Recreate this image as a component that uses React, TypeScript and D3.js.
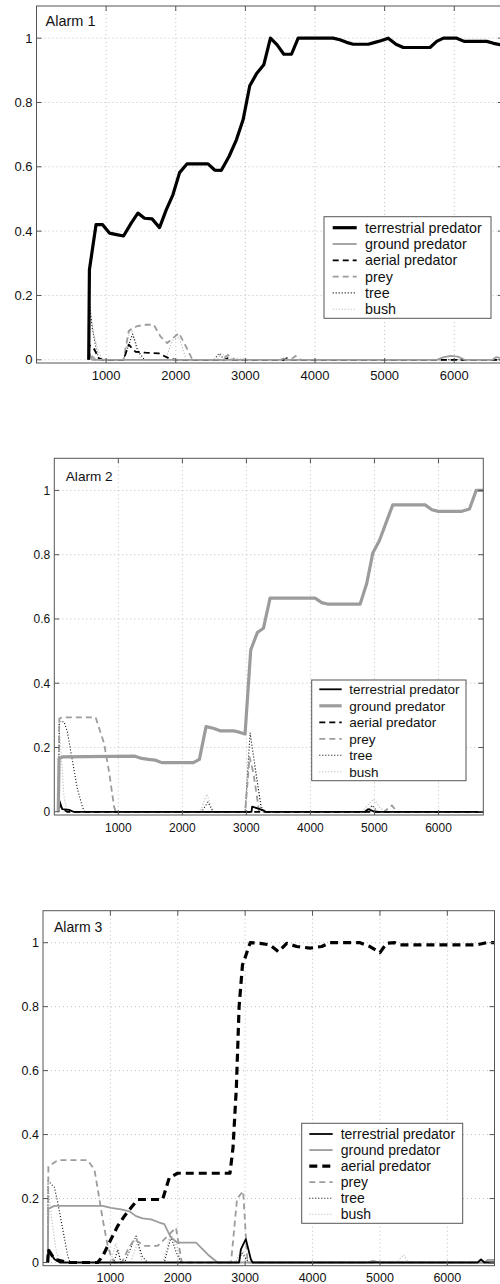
import React from "react";
import * as d3 from "d3";

type Pt = [number, number];

// ---------- data ----------
const seriesNames = ["terrestrial predator", "ground predator", "aerial predator", "prey", "tree", "bush"];
const xTicks = [1000, 2000, 3000, 4000, 5000, 6000];
const yTicks = [0, 0.2, 0.4, 0.6, 0.8, 1];
const yTickLabels = ["0", "0.2", "0.4", "0.6", "0.8", "1"];
const alarmTitles = ["Alarm 1", "Alarm 2", "Alarm 3"];

// Alarm 1
const a1Terrestrial: Pt[] = [[750,0],[760,0.28],[855,0.42],[950,0.42],[1047,0.394],[1150,0.389],[1250,0.385],[1360,0.425],[1456,0.456],[1552,0.44],[1660,0.438],[1767,0.411],[1863,0.466],[1959,0.513],[2055,0.582],[2160,0.609],[2463,0.609],[2559,0.59],[2655,0.589],[2765,0.632],[2871,0.684],[2967,0.746],[3063,0.852],[3159,0.889],[3264,0.917],[3360,1.0],[3456,0.979],[3552,0.95],[3662,0.95],[3758,1.0],[4261,1.0],[4357,0.995],[4453,0.987],[4549,0.981],[4765,0.981],[4861,0.987],[4957,0.993],[5052,1.0],[5163,0.981],[5268,0.971],[5652,0.971],[5748,0.99],[5844,1.0],[6036,1.0],[6141,0.99],[6467,0.99],[6563,0.984],[6700,0.978]];
const a1Ground: Pt[] = [[750,0],[760,0.02],[800,0],[3500,0],[3550,0.004],[3600,0],[5750,0],[5850,0.008],[5950,0.012],[6050,0.01],[6150,0],[6550,0],[6600,0.008],[6700,0.004]];
const a1Aerial: Pt[] = [[750,0],[760,0.045],[822,0.036],[893,0.005],[950,0],[1250,0],[1325,0.047],[1421,0.025],[1566,0.022],[1757,0.02],[1900,0.005],[2000,0],[2700,0],[2750,0.005],[2800,0],[3550,0],[3600,0.005],[3650,0],[6700,0]];
const a1Prey: Pt[] = [[750,0],[760,0.02],[850,0],[1250,0],[1325,0.09],[1450,0.105],[1566,0.109],[1685,0.109],[1782,0.072],[1877,0.052],[2045,0.083],[2150,0.04],[2240,0],[2650,0],[2750,0.015],[2850,0],[3650,0],[3720,0.012],[3800,0],[6700,0]];
const a1Tree: Pt[] = [[750,0],[760,0.18],[800,0.1],[860,0.03],[900,0],[1250,0],[1380,0.08],[1450,0.03],[1550,0],[2550,0],[2620,0.02],[2700,0],[6700,0]];
const a1Bush: Pt[] = [[750,0],[770,0.15],[820,0.08],[900,0.02],[950,0],[1250,0],[1350,0.1],[1420,0.06],[1500,0],[1850,0],[1950,0.06],[2050,0.07],[2150,0],[2600,0],[2650,0.02],[2750,0.005],[3000,0.005],[3050,0],[6700,0]];

// Alarm 2
const a2Terrestrial: Pt[] = [[62,0],[70,0.04],[125,0.008],[230,0.006],[300,0],[3080,0],[3090,0.016],[3260,0.005],[3300,0],[4850,0],[4900,0.008],[4980,0.002],[5050,0],[6700,0]];
const a2Ground: Pt[] = [[62,0],[75,0.166],[141,0.171],[1260,0.173],[1365,0.166],[1469,0.163],[1573,0.161],[1677,0.153],[2172,0.153],[2266,0.163],[2370,0.265],[2484,0.26],[2589,0.252],[2797,0.252],[2901,0.247],[2979,0.242],[3068,0.504],[3172,0.558],[3266,0.571],[3370,0.665],[4073,0.665],[4177,0.651],[4281,0.646],[4776,0.646],[4880,0.711],[4974,0.805],[5078,0.844],[5182,0.9],[5286,0.955],[5792,0.955],[5896,0.94],[6000,0.935],[6365,0.935],[6484,0.942],[6589,1.0],[6700,1.0]];
const a2Aerial: Pt[] = [[62,0],[70,0.03],[120,0.01],[200,0],[6700,0]];
const a2Prey: Pt[] = [[62,0],[78,0.29],[125,0.294],[646,0.294],[777,0.213],[855,0.125],[933,0.016],[960,0],[2980,0],[3050,0.17],[3110,0.12],[3200,0],[5150,0],[5272,0.02],[5350,0],[6700,0]];
const a2Tree: Pt[] = [[62,0],[80,0.28],[152,0.28],[203,0.25],[281,0.161],[359,0.073],[438,0.016],[470,0],[2300,0],[2400,0.03],[2480,0],[2980,0],[3058,0.246],[3150,0.12],[3240,0],[4900,0],[4960,0.02],[5050,0],[6700,0]];
const a2Bush: Pt[] = [[62,0],[70,0.28],[100,0.2],[150,0.05],[200,0],[2280,0],[2381,0.055],[2480,0],[2990,0],[3040,0.15],[3130,0.14],[3230,0.02],[3300,0],[4800,0],[4984,0.04],[5100,0.01],[5200,0],[6700,0]];

// Alarm 3
const a3Terrestrial: Pt[] = [[70,0],[80,0.04],[170,0.01],[250,0],[2911,0],[2936,0.041],[3010,0.073],[3084,0.01],[3110,0],[6450,0],[6500,0.01],[6550,0],[6700,0]];
const a3Ground: Pt[] = [[70,0],[80,0.168],[170,0.177],[886,0.177],[1010,0.171],[1158,0.166],[1281,0.16],[1380,0.145],[1479,0.138],[1602,0.135],[1726,0.125],[1800,0.12],[1899,0.078],[1997,0.062],[2270,0.062],[2367,0.042],[2467,0.021],[2590,0],[4800,0],[4900,0.005],[5000,0],[6550,0],[6600,0.008],[6700,0.008]];
const a3Aerial: Pt[] = [[70,0],[80,0.04],[170,0.01],[318,0.003],[400,0],[812,0],[886,0.02],[1010,0.073],[1108,0.114],[1207,0.145],[1306,0.171],[1405,0.197],[1775,0.197],[1874,0.265],[1997,0.279],[2775,0.279],[2820,0.36],[2870,0.55],[2910,0.8],[2960,0.93],[3010,0.96],[3075,1.0],[3222,0.998],[3370,0.993],[3494,0.972],[3617,0.998],[3765,0.988],[3963,0.983],[4136,0.988],[4259,1.0],[4704,1.0],[4852,0.988],[5000,0.969],[5099,0.998],[5222,1.0],[5296,0.993],[6432,0.993],[6580,1.0],[6700,1.0]];
const a3Prey: Pt[] = [[70,0],[80,0.3],[219,0.32],[664,0.32],[763,0.29],[812,0.23],[886,0.135],[960,0.052],[1010,0.02],[1060,0],[1170,0],[1260,0.04],[1356,0.073],[1504,0.052],[1701,0.052],[1849,0.083],[1973,0.109],[2060,0],[2790,0],[2880,0.2],[2970,0.223],[3034,0],[6700,0]];
const a3Tree: Pt[] = [[70,0],[75,0.255],[170,0.235],[219,0.187],[293,0.104],[368,0.02],[400,0],[1050,0],[1110,0.04],[1160,0],[1210,0],[1380,0.083],[1470,0.02],[1550,0],[1800,0],[1900,0.08],[1980,0.03],[2050,0],[2900,0],[2950,0.03],[3050,0],[6700,0]];
const a3Bush: Pt[] = [[70,0],[75,0.24],[120,0.15],[200,0.03],[260,0],[1000,0],[1080,0.06],[1150,0],[1300,0],[1400,0.06],[1470,0],[1780,0],[1890,0.09],[1990,0.05],[2050,0],[2850,0],[2950,0.04],[3050,0],[5250,0],[5350,0.025],[5420,0],[6700,0]];

const alarmData: Pt[][][] = [
  [a1Terrestrial, a1Ground, a1Aerial, a1Prey, a1Tree, a1Bush],
  [a2Terrestrial, a2Ground, a2Aerial, a2Prey, a2Tree, a2Bush],
  [a3Terrestrial, a3Ground, a3Aerial, a3Prey, a3Tree, a3Bush],
];

// ---------- styling / layout ----------
const BLACK = "#000";
const GRAY = "#9c9c9c";
const LGRAY = "#b0b0b0";

type Style = { color: string; width: number; dash: string | null };
const baseStyles = (): Style[] => [
  { color: BLACK, width: 1.8, dash: null },
  { color: GRAY, width: 1.8, dash: null },
  { color: BLACK, width: 1.8, dash: "6 4" },
  { color: GRAY, width: 1.8, dash: "6 4" },
  { color: BLACK, width: 1.1, dash: "1 2" },
  { color: LGRAY, width: 1.1, dash: "1 2" },
];
const emphasis = [0, 1, 2]; // series emphasised in each alarm

const panels = [
  { left: 36.5, right: 503, top: 6, bottom: 363, tickFont: 13, titleFont: 14.5, legFont: 14.3,
    leg: { x0: 324, x1: 491, y0: 216.7, y1: 318.3, row0: 227.7, rowH: 16.3, s0: 332.7, s1: 356.7, tx: 365 },
    title: { dx: 9, dy: 20 } },
  { left: 54.3, right: 483.3, top: 458.3, bottom: 815, tickFont: 12, titleFont: 13.6, legFont: 13.5,
    leg: { x0: 311.7, x1: 466, y0: 680, y1: 780.7, row0: 689.3, rowH: 16.5, s0: 319.3, s1: 341.7, tx: 349.3 },
    title: { dx: 11.5, dy: 22.3 } },
  { left: 43, right: 494.5, top: 910.7, bottom: 1265.7, tickFont: 12.5, titleFont: 14, legFont: 14,
    leg: { x0: 301.7, x1: 462.7, y0: 1123.3, y1: 1223.3, row0: 1134, rowH: 16.05, s0: 309.3, s1: 332.7, tx: 340.7 },
    title: { dx: 11, dy: 21.6 } },
];

const FONT = "'Liberation Sans', Arial, Helvetica, sans-serif";

function Panel({ idx }: { idx: number }) {
  const p = panels[idx];
  const x = d3.scaleLinear().domain([0, 6700]).range([p.left, p.right]);
  const y = d3.scaleLinear().domain([-0.01, 1.1]).range([p.bottom, p.top]);
  const line = d3.line<Pt>().x((d) => x(d[0])).y((d) => y(d[1]));
  const styles = baseStyles();
  const e = emphasis[idx];
  styles[e] = { ...styles[e], width: 3.2, dash: styles[e].dash ? "8 5" : null };
  const clipId = `clip${idx}`;
  const tickLen = 5;
  const order = [5, 4, 3, 2, 1, 0].filter((i) => i !== e).concat([e]);
  return (
    <g>
      <defs>
        <clipPath id={clipId}>
          <rect x={p.left} y={p.top} width={p.right - p.left} height={p.bottom - p.top} />
        </clipPath>
      </defs>
      <rect x={p.left} y={p.top} width={p.right - p.left} height={p.bottom - p.top} fill="#fff" />
      {/* grid */}
      {xTicks.map((t) => (
        <line key={"gx" + t} x1={x(t)} x2={x(t)} y1={p.top} y2={p.bottom} stroke="#b0b0b0" strokeWidth={0.8} strokeDasharray="1 3" />
      ))}
      {yTicks.map((t) => (
        <line key={"gy" + t} x1={p.left} x2={p.right} y1={y(t)} y2={y(t)} stroke="#b0b0b0" strokeWidth={0.8} strokeDasharray="1 3" />
      ))}
      {/* series */}
      <g clipPath={`url(#${clipId})`}>
        {order.map((i) => (
          <path key={"s" + i} d={line(alarmData[idx][i]) || ""} fill="none" stroke={styles[i].color}
            strokeWidth={styles[i].width} strokeDasharray={styles[i].dash || undefined} strokeLinejoin="round" />
        ))}
      </g>
      {/* frame */}
      <rect x={p.left} y={p.top} width={p.right - p.left} height={p.bottom - p.top} fill="none" stroke="#555" strokeWidth={1} />
      {xTicks.map((t) => (
        <g key={"tx" + t}>
          <line x1={x(t)} x2={x(t)} y1={p.bottom} y2={p.bottom - tickLen} stroke="#555" />
          <line x1={x(t)} x2={x(t)} y1={p.top} y2={p.top + tickLen} stroke="#555" />
          <text x={x(t)} y={p.bottom + 16.5} textAnchor="middle" fontSize={p.tickFont} fontFamily={FONT} fill="#111">{t}</text>
        </g>
      ))}
      {yTicks.map((t, k) => (
        <g key={"ty" + t}>
          <line x1={p.left} x2={p.left + tickLen} y1={y(t)} y2={y(t)} stroke="#555" />
          <line x1={p.right} x2={p.right - tickLen} y1={y(t)} y2={y(t)} stroke="#555" />
          <text x={p.left - 4} y={y(t) + p.tickFont * 0.36} textAnchor="end" fontSize={p.tickFont} fontFamily={FONT} fill="#111">{yTickLabels[k]}</text>
        </g>
      ))}
      <text x={p.left + p.title.dx} y={p.top + p.title.dy} fontSize={p.titleFont} fontFamily={FONT} fill="#111">{alarmTitles[idx]}</text>
      {/* legend */}
      <rect x={p.leg.x0} y={p.leg.y0} width={p.leg.x1 - p.leg.x0} height={p.leg.y1 - p.leg.y0} fill="#fff" stroke="#555" strokeWidth={1} />
      {seriesNames.map((n, i) => {
        const ry = p.leg.row0 + i * p.leg.rowH;
        return (
          <g key={"lg" + i}>
            <line x1={p.leg.s0} x2={p.leg.s1} y1={ry} y2={ry} stroke={styles[i].color} strokeWidth={styles[i].width}
              strokeDasharray={styles[i].dash || undefined} />
            <text x={p.leg.tx} y={ry + p.legFont * 0.36} fontSize={p.legFont} fontFamily={FONT} fill="#111">{n}</text>
          </g>
        );
      })}
    </g>
  );
}

export default function App() {
  return (
    <svg width={500} height={1284} style={{ position: "absolute", left: 0, top: 0, display: "block", background: "#fff" }}>
      <rect x={0} y={0} width={500} height={1284} fill="#fff" />
      <Panel idx={0} />
      <Panel idx={1} />
      <Panel idx={2} />
    </svg>
  );
}
